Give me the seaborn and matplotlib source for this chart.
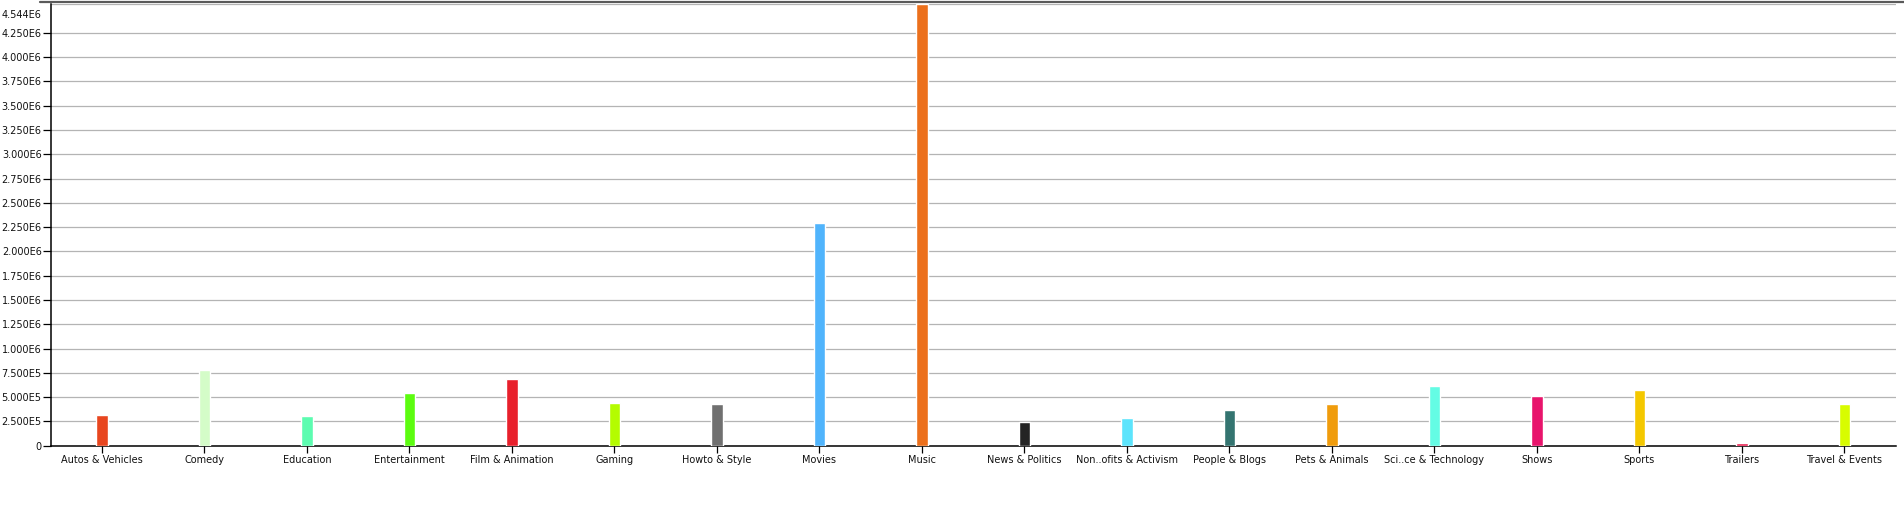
import matplotlib
matplotlib.use("Agg")
import matplotlib.pyplot as plt
import matplotlib.transforms as mtransforms
import seaborn as sns
import pandas as pd
from matplotlib.lines import Line2D

categories = ["Autos & Vehicles", "Comedy", "Education", "Entertainment",
              "Film & Animation", "Gaming", "Howto & Style", "Movies", "Music",
              "News & Politics", "Non..ofits & Activism", "People & Blogs",
              "Pets & Animals", "Sci..ce & Technology", "Shows", "Sports",
              "Trailers", "Travel & Events"]
values = [315000, 778000, 305000, 541000, 685000, 438000, 428000, 2290000,
          4544000, 246000, 284000, 366000, 428000, 613000, 510000, 572000,
          25000, 428000]
colors = ["#e8461f", "#d4fcc8", "#5cfcb0", "#5cfc10", "#e8202c", "#b4fc00",
          "#707070", "#50b4fc", "#ec701c", "#242424", "#5ce4fc", "#347470",
          "#f09c0c", "#64fce4", "#e8146c", "#f4c800", "#e82050", "#d8fc00"]
ytick_values = [0, 250000, 500000, 750000, 1000000, 1250000, 1500000, 1750000,
                2000000, 2250000, 2500000, 2750000, 3000000, 3250000, 3500000,
                3750000, 4000000, 4250000, 4544000]
ytick_labels = ["0", "2.500E5", "5.000E5", "7.500E5", "1.000E6", "1.250E6",
                "1.500E6", "1.750E6", "2.000E6", "2.250E6", "2.500E6", "2.750E6",
                "3.000E6", "3.250E6", "3.500E6", "3.750E6", "4.000E6", "4.250E6",
                "4.544E6"]

sns.set_style("white")
plt.rcParams["font.family"] = ["DejaVu Sans"]

W, H = 1904, 507
fig = plt.figure(figsize=(W / 100, H / 100), dpi=100)
ax = fig.add_axes([50.7 / W, 1 - 445.7 / H, (1895.7 - 50.7) / W, (445.7 - 4.3) / H])

df = pd.DataFrame({"category": categories, "value": values})
sns.barplot(data=df, x="category", y="value", hue="category",
            palette=dict(zip(categories, colors)), order=categories,
            width=0.113, legend=False, saturation=1, ax=ax, zorder=3)

ax.set_xlim(-0.5, len(categories) - 0.5)
ax.set_ylim(0, 4544000)
ax.set_yticks(ytick_values)
ax.set_yticklabels(ytick_labels)
ax.set_xlabel("")
ax.set_ylabel("")

ax.yaxis.grid(True, color="#b4b4b4", linewidth=0.9, zorder=0)
ax.xaxis.grid(False)
ax.set_axisbelow(True)

for side in ["top", "right"]:
    ax.spines[side].set_visible(False)
for side in ["left", "bottom"]:
    ax.spines[side].set_color("black")
    ax.spines[side].set_linewidth(1.1)

ax.tick_params(axis="y", which="major", direction="out", length=6, width=0.9,
               pad=0.5, labelsize=7, colors="black", left=True)
ax.tick_params(axis="x", which="major", direction="out", length=5, width=0.9,
               pad=2, labelsize=7, colors="black", bottom=True)
for lab in ax.get_xticklabels() + ax.get_yticklabels():
    lab.set_color("#111111")

# the maximum label sits just below the top edge, without a tick mark
top_tick = ax.yaxis.get_major_ticks()[-1]
top_tick.tick1line.set_visible(False)
top_lab = ax.get_yticklabels()[-1]
top_lab.set_transform(top_lab.get_transform() +
                      mtransforms.ScaledTranslation(0, -10 / 100, fig.dpi_scale_trans))

# top border strip
fig.add_artist(Line2D([40 / W, 1.0], [1 - 1.6 / H, 1 - 1.6 / H],
                      transform=fig.transFigure, color="#5a5a5a", linewidth=1.6))

fig.savefig("out.png", dpi=100)
